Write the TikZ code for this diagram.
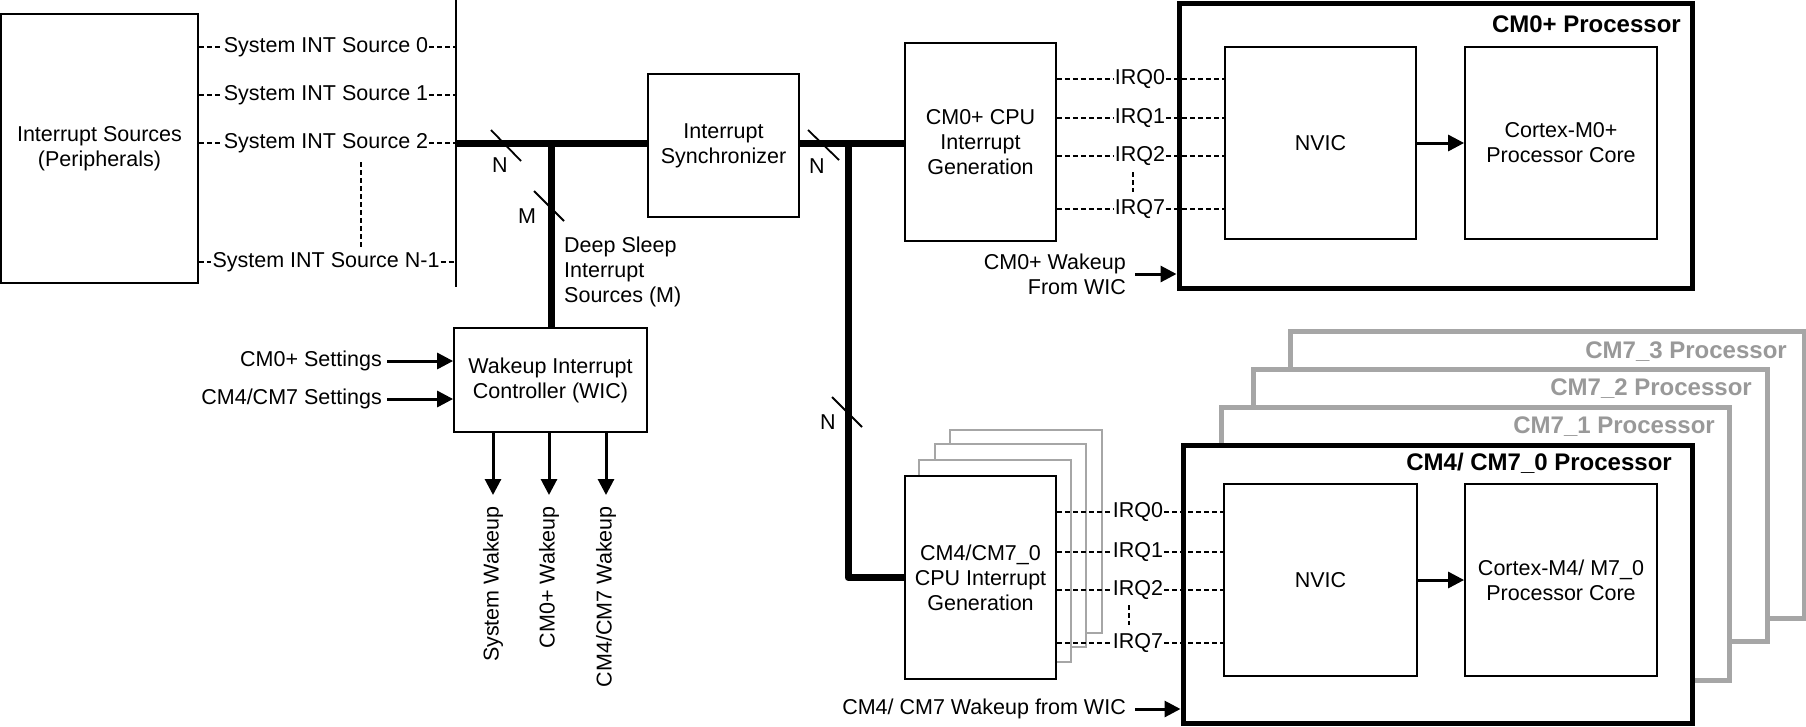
\documentclass[tikz,border=0pt]{standalone}
\usepackage{fontspec}
\setmainfont{Liberation Sans}
\usetikzlibrary{arrows.meta,calc}
\begin{document}
\begin{tikzpicture}[x=1pt,y=-1pt,font=\fontsize{21.5}{25}\selectfont,
 box/.style={draw=black, line width=1.8pt, fill=white, align=center, inner sep=0pt},
 gbox/.style={box, draw=black!35},
 proc/.style={draw=black, line width=5pt, fill=white, inner sep=0pt},
 gproc/.style={proc, draw=black!35},
 bus/.style={line width=7pt},
 thinl/.style={line width=2.4pt},
 dsh/.style={line width=1.2pt, dash pattern=on 5pt off 3pt},
 arr/.style={line width=3pt, -{Triangle[length=16pt,width=16pt]}},
 slashl/.style={line width=1.8pt},
 lbl/.style={inner sep=1pt},
 ttl/.style={font=\fontsize{24}{28}\selectfont\bfseries, inner sep=0pt, anchor=east},
 gttl/.style={ttl, text=black!40},
]
\useasboundingbox (0,0) rectangle (1806,726);

% ---------------- left: sources ----------------
\node[box, minimum width=197, minimum height=269] (isrc) at (99.5,148.5) {Interrupt Sources\\(Peripherals)};
\coordinate (vt) at (456,0);
\coordinate (vb) at (456,287);
\draw[thinl] (vt) -- (vb);
\node[lbl] (s0) at (326,47) {System INT Source 0};
\node[lbl] (s1) at (326,95) {System INT Source 1};
\node[lbl] (s2) at (326,143) {System INT Source 2};
\node[lbl] (sn) at (326,262) {System INT Source N-1};
\foreach \n in {s0,s1,s2,sn}{
  \draw[dsh] (isrc.east |- \n) -- (\n.west);
  \draw[dsh] (\n.east) -- (\n -| vt);
}
\draw[dsh] (361,162) -- (361,247);

% ---------------- bus ----------------
\coordinate (b0) at (456,143);
\node[box, minimum width=151, minimum height=143] (sync) at (723.5,145.5) {Interrupt\\Synchronizer};
\node[box, minimum width=151, minimum height=198] (cm0gen) at (980.5,142) {CM0+ CPU\\Interrupt\\Generation};
\draw[bus] (b0) -- (b0 -| sync.west);
\draw[bus] (sync.east |- b0) -- (b0 -| cm0gen.west);
\coordinate (j1) at (551,143);
\node[box, minimum width=193, minimum height=104] (wic) at (550.5,380) {Wakeup Interrupt\\Controller (WIC)};
\draw[bus] (j1) -- (j1 |- wic.north);
\coordinate (j2) at (848,143);

% CM4 gen stack
\node[gbox, minimum width=152, minimum height=203] (g3) at (1026,531.5) {};
\node[gbox, minimum width=151, minimum height=203] (g2) at (1010.5,545.5) {};
\node[gbox, minimum width=152, minimum height=202] (g1) at (995,561) {};
\node[box, minimum width=151, minimum height=203] (cm4gen) at (980.5,577.5) {CM4/CM7\_0\\CPU Interrupt\\Generation};
\draw[bus, line join=round] (j2) -- (j2 |- cm4gen.west) -- (cm4gen.west);

% slashes
\draw[slashl] (491,130) -- (521,161);
\node[lbl] (nA) at (500,165) {N};
\draw[slashl] (534,191) -- (564,221);
\node[lbl] (mA) at (527,216) {M};
\draw[slashl] (808,130) -- (839,160);
\node[lbl] (nB) at (817,166) {N};
\draw[slashl] (832,397) -- (862,427);
\node[lbl] (nC) at (828,422) {N};

\node[align=left, anchor=west, inner sep=0pt] (ds) at (564,272) {Deep Sleep\\Interrupt\\Sources (M)};

% WIC inputs / outputs
\node[anchor=east, inner sep=1pt] (set0) at (383,361) {CM0+ Settings};
\node[anchor=east, inner sep=1pt] (set4) at (383,399) {CM4/CM7 Settings};
\draw[arr] ($(set0.east)+(4,0)$) -- (set0 -| wic.west);
\draw[arr] ($(set4.east)+(4,0)$) -- (set4 -| wic.west);
\coordinate (w1) at (493,495);
\coordinate (w2) at (549,495);
\coordinate (w3) at (606,495);
\draw[arr] (w1 |- wic.south) -- (w1);
\draw[arr] (w2 |- wic.south) -- (w2);
\draw[arr] (w3 |- wic.south) -- (w3);
\node[rotate=90, anchor=east, inner sep=0pt] (tw1) at (493,506) {System Wakeup};
\node[rotate=90, anchor=east, inner sep=0pt] (tw2) at (549,506) {CM0+ Wakeup};
\node[rotate=90, anchor=east, inner sep=0pt] (tw3) at (606,506) {CM4/CM7 Wakeup};

% ---------------- CM0+ processor ----------------
\node[proc, minimum width=513, minimum height=285] (cm0p) at (1435.5,145.5) {};
\node[ttl] (cm0t) at (1681,24) {CM0+ Processor};
\node[box, minimum width=191, minimum height=192] (nvic0) at (1320.5,143) {NVIC};
\node[box, minimum width=192, minimum height=192] (core0) at (1561,143) {Cortex-M0+\\Processor Core};
\draw[arr] (nvic0.east) -- (core0.west);
\node[lbl] (q00) at (1140,79) {IRQ0};
\node[lbl] (q01) at (1140,118) {IRQ1};
\node[lbl] (q02) at (1140,156) {IRQ2};
\node[lbl] (q07) at (1140,209) {IRQ7};
\foreach \n in {q00,q01,q02,q07}{
  \draw[dsh] (cm0gen.east |- \n) -- (\n.west);
  \draw[dsh] (\n.east) -- (\n -| nvic0.west);
}
\draw[dsh] (1133,172) -- (1133,192);
\node[align=right, anchor=east, inner sep=1pt] (wk0) at (1127,274) {CM0+ Wakeup\\From WIC};
\draw[arr] ($(wk0.east)+(8,0)$) -- (wk0 -| cm0p.west);

% ---------------- CM4/CM7 processors ----------------
\node[gproc, minimum width=514, minimum height=287] (cm73) at (1547,474.5) {};
\node[gttl] (cm73t) at (1787,352) {CM7\_3 Processor};
\node[gproc, minimum width=514, minimum height=272] (cm72) at (1510,505) {};
\node[gttl] (cm72t) at (1752,389) {CM7\_2 Processor};
\node[gproc, minimum width=508, minimum height=273] (cm71) at (1475,543.5) {};
\node[gttl] (cm71t) at (1715,427) {CM7\_1 Processor};
\node[proc, minimum width=509, minimum height=278] (cm4p) at (1437.5,584) {};
\node[ttl] (cm4t) at (1672,463) {CM4/ CM7\_0 Processor};
\node[box, minimum width=193, minimum height=192] (nvic4) at (1320.5,580) {NVIC};
\node[box, minimum width=192, minimum height=192] (core4) at (1561,580) {Cortex-M4/ M7\_0\\Processor Core};
\draw[arr] (nvic4.east) -- (core4.west);
\node[lbl] (q40) at (1138,512) {IRQ0};
\node[lbl] (q41) at (1138,552) {IRQ1};
\node[lbl] (q42) at (1138,590) {IRQ2};
\node[lbl] (q47) at (1138,643) {IRQ7};
\foreach \n in {q40,q41,q42,q47}{
  \draw[dsh] (cm4gen.east |- \n) -- (\n.west);
  \draw[dsh] (\n.east) -- (\n -| nvic4.west);
}
\draw[dsh] (1129,605) -- (1129,625);
\node[anchor=east, inner sep=1pt] (wk4) at (1127,709) {CM4/ CM7 Wakeup from WIC};
\draw[arr] ($(wk4.east)+(8,0)$) -- (wk4 -| cm4p.west);
\end{tikzpicture}
\end{document}
